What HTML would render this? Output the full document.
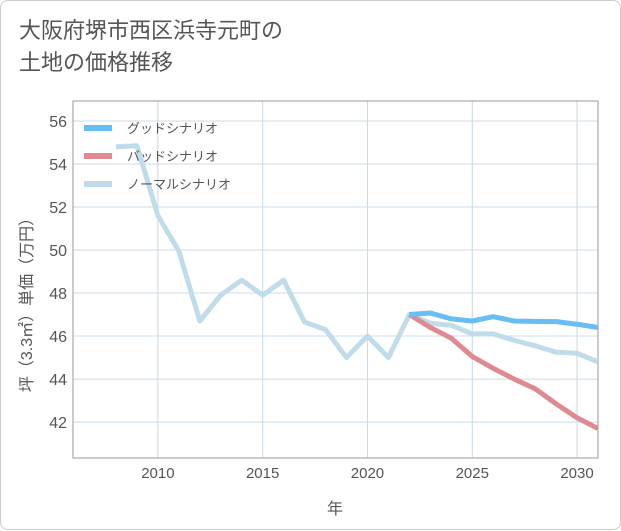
<!DOCTYPE html>
<html><head><meta charset="utf-8"><style>
body{margin:0;background:#fff;font-family:"Liberation Sans","Noto Sans CJK JP",sans-serif;}
#card{position:absolute;left:0;top:0;width:619px;height:528px;border:1px solid #ccc;border-radius:8px;background:#fff;}
#title{position:absolute;left:18px;top:14px;font-size:22px;line-height:32px;color:#555;}
</style></head><body>
<div id="card">
<div id="title">大阪府堺市西区浜寺元町の<br>土地の価格推移</div>
<svg id="chart" width="621" height="530" style="position:absolute;left:0;top:0"></svg>
</div>
<script>
const years=[2008,2009,2010,2011,2012,2013,2014,2015,2016,2017,2018,2019,2020,2021,2022,2023,2024,2025,2026,2027,2028,2029,2030,2031];
const normal=[54.8,54.85,51.6,49.95,46.7,47.9,48.6,47.9,48.6,46.65,46.3,45.0,46.0,45.0,47.0,46.6,46.5,46.1,46.1,45.8,45.55,45.25,45.2,44.8];
const goodYears=[2022,2023,2024,2025,2026,2027,2028,2029,2030,2031];
const good=[47.0,47.07,46.8,46.7,46.9,46.7,46.68,46.67,46.55,46.4];
const bad=[47.0,46.4,45.9,45.05,44.5,44.0,45.55-2,42.85,42.2,41.7];
const xTicks=[2010,2015,2020,2025,2030];
const yTicks=[42,44,46,48,50,52,54,56];
const L=72,R=597,T=100,B=457;
const xMin=2005.95,xMax=2031,yMin=40.33,yMax=56.93;
const X=v=>L+(v-xMin)/(xMax-xMin)*(R-L);
const Y=v=>B-(v-yMin)/(yMax-yMin)*(B-T);
const svg=document.getElementById('chart');const NS='http://www.w3.org/2000/svg';
function mk(t,a,p){const e=document.createElementNS(NS,t);for(const k in a)e.setAttribute(k,a[k]);(p||svg).appendChild(e);return e;}
const clip=mk('clipPath',{id:'c'});mk('rect',{x:L,y:T,width:R-L,height:B-T},clip);
for(const t of xTicks){const l=mk('line',{x1:X(t),x2:X(t),y1:T,y2:B,stroke:'#c8d8e4','stroke-width':1});

const tx=mk('text',{x:X(t),y:B+20,'text-anchor':'middle','font-size':15,fill:'#555'});tx.textContent=t;
}
for(const t of yTicks){const l=mk('line',{x1:L,x2:R,y1:Y(t),y2:Y(t),stroke:'#c8dce8','stroke-width':1});

const tx=mk('text',{x:L-6,y:Y(t)+6,'text-anchor':'end','font-size':16,fill:'#555'});tx.textContent=t;
}
const fr=mk('rect',{x:L,y:T,width:R-L,height:B-T,fill:'none',stroke:'#999','stroke-width':1});

function line(xs,ys,c,n){const p=mk('polyline',{points:xs.map((x,i)=>X(x)+','+Y(ys[i])).join(' '),fill:'none',stroke:c,'stroke-width':5,'stroke-linejoin':'round','clip-path':'url(#c)'});
}
line(years,normal,'#c0dcea','normal-line');
line(goodYears,bad,'#de8a90','bad-line');
line(goodYears,good,'#68bdf5','good-line');
const leg=[['グッドシナリオ','#68bdf5',127],['バッドシナリオ','#de8a90',155],['ノーマルシナリオ','#c0dcea',183]];
for(const [t,c,y] of leg){const g=mk('g',{});
mk('line',{x1:83,x2:111,y1:y,y2:y,stroke:c,'stroke-width':6},g);
const tx=mk('text',{x:126,y:y+5,'font-size':13,fill:'#555'},g);tx.textContent=t;}
const xt=mk('text',{x:334,y:513,'text-anchor':'middle','font-size':16,fill:'#555'});xt.textContent='年';

const yt=mk('text',{x:0,y:0,'text-anchor':'middle','font-size':16,fill:'#555',transform:'translate(31,300) rotate(-90)'});yt.textContent='坪（3.3㎡）単価（万円）';

</script></body></html>
